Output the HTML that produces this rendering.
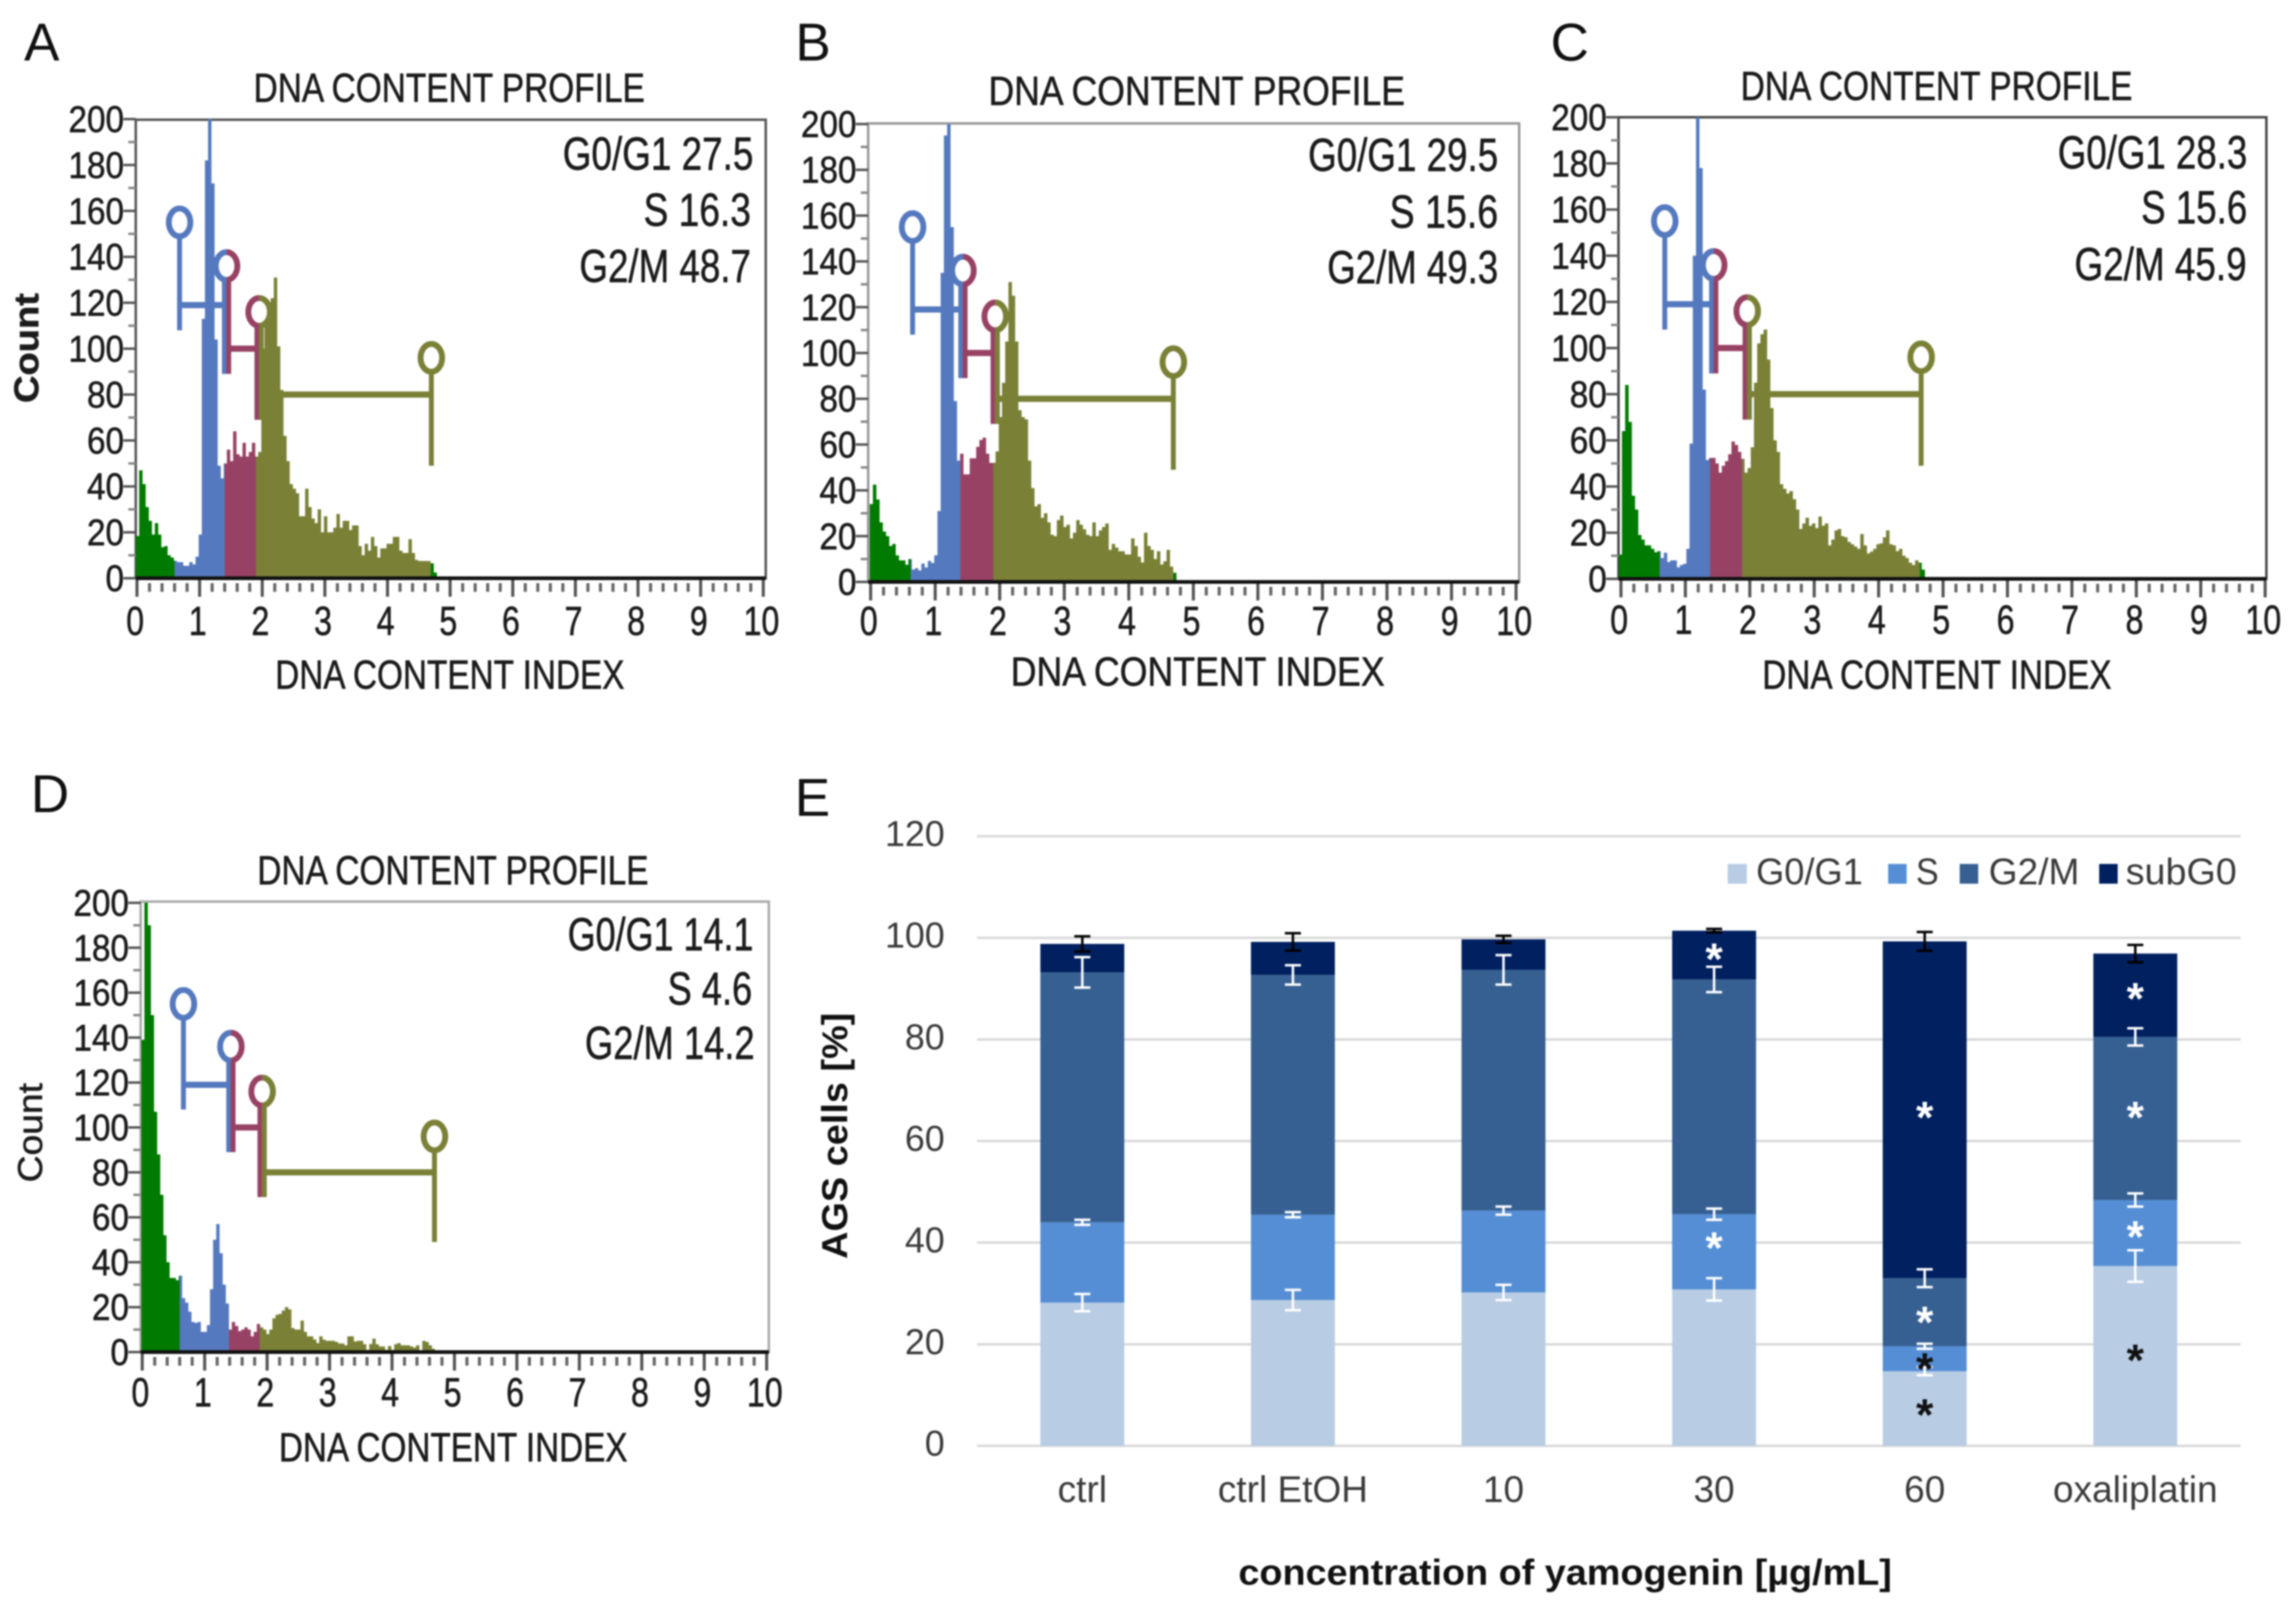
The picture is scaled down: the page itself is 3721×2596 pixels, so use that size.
<!DOCTYPE html>
<html lang="en">
<head>
<meta charset="utf-8">
<title>DNA content profiles and cell cycle distribution</title>
<style>
html,body{margin:0;padding:0;background:#fff;width:3721px;height:2596px;overflow:hidden}
svg{display:block;filter:blur(1.2px)}
text{font-family:"Liberation Sans",sans-serif}
.h{fill:#1c1c1c;stroke:#1c1c1c;stroke-width:0.9}
.e{fill:#3a3a3a}
</style>
</head>
<body>
<svg id="figure" xmlns="http://www.w3.org/2000/svg" width="3721" height="2596" viewBox="0 0 3721 2596">
  <rect width="3721" height="2596" fill="#fff"/>

  <text x="39" y="98" font-size="86" fill="#111">A</text>
  <text x="1289" y="98" font-size="86" fill="#111">B</text>
  <text x="2513" y="98" font-size="86" fill="#111">C</text>
  <text x="50" y="1316" font-size="86" fill="#111">D</text>
  <text x="1288" y="1322" font-size="86" fill="#111">E</text>

  <g id="panel-a"></g>
  <g id="panel-b"></g>
  <g id="panel-c"></g>
  <g id="panel-d"></g>

  <g class="h" font-size="66">
    <text x="411" y="165" textLength="634" lengthAdjust="spacingAndGlyphs">DNA CONTENT PROFILE</text>
    <text x="446" y="1116" textLength="566" lengthAdjust="spacingAndGlyphs">DNA CONTENT INDEX</text>
    <text transform="translate(62,653) rotate(-90)" font-size="56" font-weight="bold" textLength="178" lengthAdjust="spacingAndGlyphs">Count</text>
    <text x="912" y="275" font-size="75" textLength="309" lengthAdjust="spacingAndGlyphs">G0/G1 27.5</text>
    <text x="1043" y="366" font-size="75" textLength="174" lengthAdjust="spacingAndGlyphs">S 16.3</text>
    <text x="939" y="457" font-size="75" textLength="278" lengthAdjust="spacingAndGlyphs">G2/M 48.7</text>
  </g>
  <g class="h" font-size="66">
    <text x="1602" y="170" textLength="675" lengthAdjust="spacingAndGlyphs">DNA CONTENT PROFILE</text>
    <text x="1638" y="1111" textLength="606" lengthAdjust="spacingAndGlyphs">DNA CONTENT INDEX</text>
    <text x="2120" y="277" font-size="75" textLength="308" lengthAdjust="spacingAndGlyphs">G0/G1 29.5</text>
    <text x="2252" y="369" font-size="75" textLength="176" lengthAdjust="spacingAndGlyphs">S 15.6</text>
    <text x="2151" y="459" font-size="75" textLength="277" lengthAdjust="spacingAndGlyphs">G2/M 49.3</text>
  </g>
  <g class="h" font-size="66">
    <text x="2821" y="162" textLength="635" lengthAdjust="spacingAndGlyphs">DNA CONTENT PROFILE</text>
    <text x="2856" y="1116" textLength="566" lengthAdjust="spacingAndGlyphs">DNA CONTENT INDEX</text>
    <text x="3335" y="273" font-size="75" textLength="307" lengthAdjust="spacingAndGlyphs">G0/G1 28.3</text>
    <text x="3470" y="362" font-size="75" textLength="172" lengthAdjust="spacingAndGlyphs">S 15.6</text>
    <text x="3362" y="454" font-size="75" textLength="279" lengthAdjust="spacingAndGlyphs">G2/M 45.9</text>
  </g>
  <g class="h" font-size="66">
    <text x="417" y="1433" textLength="634" lengthAdjust="spacingAndGlyphs">DNA CONTENT PROFILE</text>
    <text x="452" y="2368" textLength="565" lengthAdjust="spacingAndGlyphs">DNA CONTENT INDEX</text>
    <text transform="translate(68,1916) rotate(-90)" font-size="56" textLength="161" lengthAdjust="spacingAndGlyphs">Count</text>
    <text x="920" y="1540" font-size="75" textLength="301" lengthAdjust="spacingAndGlyphs">G0/G1 14.1</text>
    <text x="1082" y="1628" font-size="75" textLength="137" lengthAdjust="spacingAndGlyphs">S 4.6</text>
    <text x="948" y="1716" font-size="75" textLength="275" lengthAdjust="spacingAndGlyphs">G2/M 14.2</text>
  </g>

  <g id="chart-e"></g>

  <g class="e" font-size="60">
    <g>
      <rect x="2800" y="1400" width="31" height="32" fill="#B8CCE4"/>
      <text x="2846" y="1433" textLength="173" lengthAdjust="spacingAndGlyphs">G0/G1</text>
    </g>
    <g>
      <rect x="3060" y="1400" width="30" height="32" fill="#558ED5"/>
      <text x="3105" y="1433" textLength="37" lengthAdjust="spacingAndGlyphs">S</text>
    </g>
    <g>
      <rect x="3176" y="1400" width="30" height="32" fill="#376092"/>
      <text x="3223" y="1433" textLength="147" lengthAdjust="spacingAndGlyphs">G2/M</text>
    </g>
    <g>
      <rect x="3402" y="1400" width="30" height="32" fill="#002060"/>
      <text x="3445" y="1433" textLength="180" lengthAdjust="spacingAndGlyphs">subG0</text>
    </g>
  </g>
  <text x="2007" y="2568" font-size="58" font-weight="bold" fill="#111" textLength="1059" lengthAdjust="spacingAndGlyphs">concentration of yamogenin [µg/mL]</text>
  <text transform="translate(1373,2040) rotate(-90)" font-size="58" font-weight="bold" fill="#111" textLength="399" lengthAdjust="spacingAndGlyphs">AGS cells [%]</text>
</svg>

<script>
// ---- Histogram data (counts per 0.05 DNA-index bin) ----
const binsA = [18.4,47,41,31,25,19,24,19,13.5,14,10,9,7.6,7,7,5.4,5.4,7,6,9.4,19,113,182,200,172,104,49,43.5,50,56,51,64,54,53,59,53,55,59,53,55,100,118,120,122,131,101,82,62,51,41,39,37,27,27,39,31,26,24,30,20,27,20,20,22,28,22,25,25,21,23,23,14,10,15,12,18,14,9,13,13,15,15,18,18,12,11,11,17,11,8,7.5,7.5,7.5,7.5,6.5,2.5];
const binsB = [34,42.5,36,26,22,20,15.7,16.6,11.6,9.4,9.4,7.5,10,5.4,6,5,8,6.3,9.2,8.3,11.6,31,135,195,200,155,79,53,56,47,47,54,54,59,62,63,56,52,52,57,72,87,105,131,125,105,75,72,71,53,41,33,34,28,30,26,20.6,20,27,29,24,25,19,21.5,27,25,23,20.6,20,26,20,22.5,24,25.5,14,16.6,15,13.4,13.4,12,12,19,15.7,11,8.5,21.5,15.7,14,10,13.4,7.6,9,14,6.7,4,0.5];
const binsC = [10.5,64,84,68,36,30,19,17,14.5,14.5,13,11.5,12,9,11.3,7.3,8,8,5,6,6.5,13,58.6,140,200,178,82,51.5,52.4,52.4,50,46,49,51,54,59.5,58,55,52,46,48,57,85,102,106,108,95,74,60,55,41,39,37,38,34.5,30,21.6,24,26.5,23,24,22,27,23,24,14.5,17,21,21.6,18.5,18,16,15,14,13,19.4,14.5,11,11.8,13,15,15.4,18,21,15,14.5,12,13,10,9,7,6,8,7,4];
const binsD = [139,200,190,150,107,88,70,52,40,33,33,32,34,24,22,18,13.4,13,13.4,9,9,12,28,50,57,44,30,21.6,10,13.4,11.6,9.3,10,11,10,7,9,12.5,11,10,8,10,15,16.6,17,18.5,20,19,10.7,10,10,14,9,7,7,5.6,4,7,5.5,5,5,5,4.5,3.8,3.8,3,7,7,4.7,5,5,3.5,1,3.6,6,3.5,2.5,2.5,1,2.7,1,3.5,4,3,3,3,2.5,2,3,0,5,4.5,3,1.5,0];
// Gate boundaries on the DNA index (region colouring)
const regionCutsA = [0.6,1.4,1.9,4.69];
const regionCutsB = [0.62,1.39,1.9,4.69];
const regionCutsC = [0.6,1.38,1.88,4.64];
const regionCutsD = [0.6,1.39,1.88,4.72];
// Gate marker positions on the DNA index
const gateXA = [0.68,1.43,1.95,4.70];
const gateXB = [0.65,1.43,1.93,4.69];
const gateXC = [0.68,1.44,1.96,4.66];
const gateXD = [0.66,1.42,1.92,4.68];
const xTickLabels = ['0','1','2','3','4','5','6','7','8','9','10'];
const yTickLabels = ['0','20','40','60','80','100','120','140','160','180','200'];

// ---- Stacked bar data ----
const categories = ['ctrl','ctrl EtOH','10','30','60','oxaliplatin'];
const seriesNames = ['G0/G1','S','G2/M','subG0'];
const valuesG0 = [28.2,28.7,30.2,30.8,14.7,35.4];
const valuesS = [15.8,16.8,16.1,14.8,4.9,13];
const valuesG2 = [49.2,47.2,47.4,46.2,13.4,32.1];
const valuesSub = [5.6,6.5,6,9.6,66.3,16.4];
const errG0 = [1.7,2,1.5,2.2,0.8,3.1];
const errS = [0.5,0.5,0.8,1.1,0.5,1.3];
const errG2 = [3,1.9,2.9,2.5,1.75,1.7];
const errSub = [1.5,1.7,0.7,0.35,1.85,1.7];
const barTickLabels = ['0','20','40','60','80','100','120'];
const starCategory = [3,3,4,4,4,4,5,5,5,5];
const starValue = [97.2,40.3,66,25.7,16.5,7.5,89.4,66,42.5,18.2];
const starDark = [0,0,0,0,1,1,0,0,0,1];

const NS = 'http://www.w3.org/2000/svg';
function mk(parent, tag, attrs, txt) {
  const el = document.createElementNS(NS, tag);
  for (const k in attrs) el.setAttribute(k, attrs[k]);
  if (txt !== undefined) el.textContent = txt;
  parent.appendChild(el);
  return el;
}

const GREEN = '#007A00', BLUE = '#5579BF', RED = '#974264', OLIVE = '#7A8036';

function histogram(id, bins, cuts, gates, L) {
  const g = document.getElementById(id);
  const X = v => L.x0 + v * L.ux;
  const Y = v => L.y0 - v * L.uy;
  const colors = [GREEN, BLUE, RED, OLIVE, GREEN];
  const edges = [-1].concat(cuts, [99]);
  const binW = 0.05;

  // frame
  const frame = mk(g, 'rect', {x:L.left, y:L.top, width:L.right-L.left, height:L.y0-L.top, fill:'#fff', stroke:L.frame, 'stroke-width':4});
  
  

  // bars, split at the gate boundaries
  bins.forEach((v, i) => {
    const a = i * binW + L.off, b = a + binW;
    for (let c = 0; c < colors.length; c++) {
      const lo = Math.max(a, edges[c]), hi = Math.min(b, edges[c + 1]);
      if (hi <= lo) continue;
      const r = mk(g, 'rect', {x:X(lo), y:Y(v), width:X(hi)-X(lo)+0.4, height:Math.max(0, v*L.uy), fill:colors[c]});
      
      
    }
  });

  // baseline
  const base = mk(g, 'line', {x1:L.left, x2:L.right, y1:L.y0, y2:L.y0, stroke:'#111', 'stroke-width':6});
  
  

  // x ticks
  for (let k = 0; k <= 50; k++) {
    const major = k % 5 === 0;
    const t = mk(g, 'line', {x1:X(k*0.2), x2:X(k*0.2), y1:L.y0+(major?3:8), y2:L.y0+(major?30:22), stroke:major?'#555':'#666', 'stroke-width':5});
    
    
  }
  xTickLabels.forEach((s, i) => {
    const t = mk(g, 'text', {x:X(+s)-3, y:L.y0+L.xl, 'text-anchor':'middle', 'font-size':66, class:'h', textLength:s.length*29, lengthAdjust:'spacingAndGlyphs'}, s);
    
    
  });

  // y ticks
  for (let k = 0; k <= 20; k++) {
    const major = k % 2 === 0;
    const t = mk(g, 'line', {x1:L.left-(major?20:12), x2:L.left, y1:Y(k*10), y2:Y(k*10), stroke:major?'#555':'#888', 'stroke-width':4});
    
    
  }
  yTickLabels.forEach(s => {
    const t = mk(g, 'text', {x:L.left-19, y:Y(+s)+21, 'text-anchor':'end', 'font-size':60, class:'h', textLength:s.length*30, lengthAdjust:'spacingAndGlyphs'}, s);
    
    
  });

  // gate markers
  const [gx0, gx1, gx2, gx3] = gates;
  function seg(x1, y1, x2, y2, col, w, name) {
    const l = mk(g, 'line', {x1, y1, x2, y2, stroke:col, 'stroke-width':w});
    
    
  }
  function head(cx, cy, cl, cr, name) {
    const rx = 17.5, ry = 22.5;
    const e = mk(g, 'ellipse', {cx, cy, rx, ry, fill:'#fff', stroke:'none'});
    
    
    const a = mk(g, 'path', {d:`M${cx},${cy-ry}A${rx},${ry} 0 0 0 ${cx},${cy+ry}`, fill:'none', stroke:cl, 'stroke-width':9.5});
    
    
    const b = mk(g, 'path', {d:`M${cx},${cy-ry}A${rx},${ry} 0 0 1 ${cx},${cy+ry}`, fill:'none', stroke:cr, 'stroke-width':9.5});
    
    
  }
  const W = 8, d = 3.5;
  seg(X(gx0), Y(155), X(gx0), Y(108), BLUE, W, 'gate-blue-left');
  seg(X(gx0), Y(119), X(gx1), Y(119), BLUE, 10, 'gate-blue-bar');
  seg(X(gx1)-d, Y(136), X(gx1)-d, Y(89), BLUE, W, 'gate-blue-right');
  seg(X(gx1)+d, Y(136), X(gx1)+d, Y(89), RED, W, 'gate-red-left');
  seg(X(gx1), Y(100), X(gx2), Y(100), RED, 10, 'gate-red-bar');
  seg(X(gx2)-d, Y(116), X(gx2)-d, Y(69), RED, W, 'gate-red-right');
  seg(X(gx2)+d, Y(116), X(gx2)+d, Y(69), OLIVE, W, 'gate-olive-left');
  seg(X(gx2), Y(80), X(gx3), Y(80), OLIVE, 10, 'gate-olive-bar');
  seg(X(gx3), Y(96), X(gx3), Y(49), OLIVE, W, 'gate-olive-right');
  head(X(gx0), Y(155), BLUE, BLUE, 'gate-handle');
  head(X(gx1), Y(136), BLUE, RED, 'gate-handle');
  head(X(gx2), Y(116), RED, OLIVE, 'gate-handle');
  head(X(gx3), Y(96), OLIVE, OLIVE, 'gate-handle');
}

histogram('panel-a', binsA, regionCutsA, gateXA, {x0:222, ux:101.5, y0:937, uy:3.72, off:-0.015, left:220, right:1241, top:194, frame:'#555', xl:92});
histogram('panel-b', binsB, regionCutsB, gateXB, {x0:1411, ux:104.6, y0:943, uy:3.71, off:-0.015, left:1407, right:2462, top:200, frame:'#999', xl:86});
histogram('panel-c', binsC, regionCutsC, gateXC, {x0:2627, ux:104.4, y0:938, uy:3.74, off:-0.035, left:2623, right:3673, top:190, frame:'#444', xl:89});
histogram('panel-d', binsD, regionCutsD, gateXD, {x0:230.5, ux:101.2, y0:2191, uy:3.64, off:-0.015, left:228, right:1246, top:1461, frame:'#aaa', xl:88});

// ---- Stacked bars ----
(function () {
  const g = document.getElementById('chart-e');
  const left = 1583.4, band = 341.3, barW = 136;
  const Y = v => 2343 - v * 8.233;
  const CX = i => left + band * (i + 0.5);
  const colors = ['#B8CCE4', '#558ED5', '#376092', '#002060'];
  const series = [valuesG0, valuesS, valuesG2, valuesSub];
  const errs = [errG0, errS, errG2, errSub];
  const errColors = ['#fff', '#fff', '#fff', '#000'];

  barTickLabels.forEach(s => {
    const l = mk(g, 'line', {x1:left, x2:left + band * categories.length, y1:Y(+s), y2:Y(+s), stroke:'#D9D9D9', 'stroke-width':4});
    
    
    const t = mk(g, 'text', {x:1531, y:Y(+s)+16, 'text-anchor':'end', 'font-size':58, class:'e'}, s);
    
    
  });

  categories.forEach((c, i) => {
    let base = 0;
    const tops = [];
    series.forEach((vals, s) => {
      const v = vals[i];
      const r = mk(g, 'rect', {x:CX(i)-barW/2, y:Y(base+v), width:barW, height:v*8.233, fill:colors[s]});
      
      
      base += v;
      tops.push(base);
    });
    tops.forEach((top, s) => {
      const e = errs[s][i], col = errColors[s];
      const stem = mk(g, 'line', {x1:CX(i), x2:CX(i), y1:Y(top+e), y2:Y(top-e), stroke:col, 'stroke-width':4});
      
      
      [top+e, top-e].forEach(w => {
        const cap = mk(g, 'line', {x1:CX(i)-13, x2:CX(i)+13, y1:Y(w), y2:Y(w), stroke:col, 'stroke-width':4});
        
        
      });
    });
    const t = mk(g, 'text', {x:CX(i), y:2434, 'text-anchor':'middle', 'font-size':60, class:'e'}, c);
    
    
  });

  starValue.forEach((v, i) => {
    const t = mk(g, 'text', {x:CX(starCategory[i]), y:Y(v)+36, 'text-anchor':'middle', 'font-size':72, 'font-weight':'bold', fill:starDark[i]?'#111':'#fff'}, '*');
    
    
  });
})();
</script>
</body>
</html>
